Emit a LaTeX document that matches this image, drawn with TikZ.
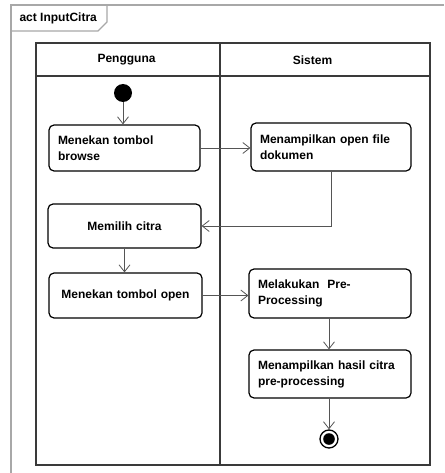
\documentclass[tikz,border=0pt]{standalone}
\usepackage{fontspec}
\setmainfont{Liberation Sans}
\usetikzlibrary{arrows.meta}
\definecolor{framegray}{HTML}{A8A8A8}
\definecolor{lanegray}{HTML}{3A3A3A}
\definecolor{flowgray}{HTML}{555555}
\begin{document}
\begin{tikzpicture}[x=1pt,y=-1pt,
  lbl/.style={font=\fontsize{12}{16}\selectfont\bfseries},
  action/.style={draw=black, line width=1.2pt, rounded corners=5pt, lbl,
    inner xsep=9pt, inner ysep=0pt, anchor=center},
  flow/.style={draw=flowgray, line width=0.8pt,
    -{Straight Barb[length=7pt,width=11pt,line width=0.8pt]}}]
\useasboundingbox (0,0) rectangle (444,473);

% diagram frame with its name tab
\draw[framegray, line width=1.4pt] (444,5) -- (11,5) -- (11,473);
\draw[framegray, line width=1.2pt] (11,31) -- (98,31) -- (107,22) -- (107,5);
\node[lbl, anchor=west] (title) at (16,18) {act InputCitra};

% swimlanes
\draw[lanegray, line width=1.6pt] (36,43) rectangle (430,465);
\draw[lanegray, line width=1.6pt] (36,76) -- (430,76);
\draw[lanegray, line width=1.6pt] (220,43) -- (220,465);
\node[lbl] (laneA) at (126.5,60) {Pengguna};
\node[lbl] (laneB) at (312.5,60) {Sistem};

% initial and final nodes
\node[circle, fill=black, minimum size=18pt, inner sep=0pt] (start) at (123,93) {};
\node[circle, draw=black, line width=1.3pt, minimum size=18pt, inner sep=0pt] (stop) at (329,439) {};
\fill[black] (stop.center) circle (5.8pt);

% actions
\node[action, text width=133pt, minimum height=46pt, align=left] (browse) at (124.5,148)
  {Menekan tombol\\browse};
\node[action, text width=142pt, minimum height=48pt, align=left] (openfile) at (331,147)
  {Menampilkan open file\\dokumen};
\node[action, text width=135pt, minimum height=44pt, align=center] (pilih) at (124.5,226)
  {Memilih citra};
\node[action, text width=135pt, minimum height=45pt, align=center] (open) at (125.5,295.5)
  {Menekan tombol open};
\node[action, text width=144pt, minimum height=49pt, align=left] (pre) at (330,293.5)
  {Melakukan\ \ Pre-\\Processing};
\node[action, text width=144pt, minimum height=48pt, align=left] (hasil) at (330,374)
  {Menampilkan hasil citra\\pre-processing};

% control flows
\draw[flow] (start) -- (start |- browse.north);
\draw[flow] (browse.east) -- (browse.east -| openfile.west);
\draw[flow] (openfile.south) |- (pilih.east);
\draw[flow] (pilih.south) -- (pilih.south |- open.north);
\draw[flow] (open.east) -- (open.east -| pre.west);
\draw[flow] (pre.south -| stop) -- (hasil.north -| stop);
\draw[flow] (hasil.south -| stop) -- (stop.north);
\end{tikzpicture}
\end{document}
